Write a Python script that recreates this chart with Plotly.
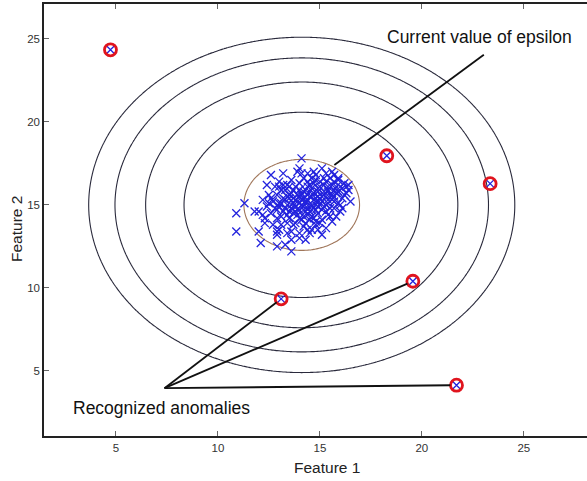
import numpy as np
import plotly.graph_objects as go

# ---------------- data ----------------
cluster_x = [
 14.1,14.0,15.1,13.9,13.2,12.6,14.4,15.7,14.7,15.3,
 13.0,13.6,14.2,14.8,15.3,15.9,16.2,12.8,13.4,14.0,
 14.5,15.0,15.6,16.1,16.4,13.1,13.7,14.3,14.9,15.4,
 15.9,16.3,12.5,12.9,13.5,14.1,14.6,15.2,15.7,16.1,
 12.2,12.7,13.3,13.8,14.4,14.9,15.4,15.9,16.5,11.3,
 12.4,13.0,13.6,14.1,14.6,15.2,15.7,16.0,11.8,12.0,
 12.6,13.2,13.8,14.3,14.9,15.4,10.9,12.9,13.5,14.0,
 14.5,15.1,15.6,12.3,13.1,13.7,14.2,14.8,15.3,12.0,
 10.9,12.9,13.4,14.0,14.5,12.9,13.6,14.0,12.1,12.9,
 13.6,13.3,14.3,
 13.4,14.2,14.8,15.5,13.9,14.7,15.0,13.5,14.4,15.3,
 13.2,14.0,15.8,14.5,13.7,15.1,14.3,13.9,15.6,14.9,
 13.4,14.6,15.4,14.1,13.8,15.2,14.4,15.5,14.0,13.1,
 14.8,15.9,13.6,14.6,15.1,14.2,13.3,15.7,14.9,13.9,
 14.5,15.3,12.8,13.5,14.7,15.0,13.8,14.3,12.6,16.0,
 15.8,12.7,13.0,14.6,15.5,16.2,13.2,14.1,14.8,12.4,
 15.6,12.3,16.4,13.0,14.4,15.2,13.7,14.0,14.7,15.4,
 13.5,14.2,14.9,13.6,15.0,14.4,15.7,13.3,14.1,14.8,
 14.3,14.6,14.0,14.5,13.9,14.8,14.2,15.1,13.7,14.6,
 15.3,14.1,13.8,15.0,14.4,14.9,15.6,13.4,14.7,15.8,
 15.4,16.0,13.1,12.9,15.5,14.2,13.4,14.9,15.9,15.2,
 16.3,14.6,12.5,13.0,16.1,15.7,12.2,13.6,14.4,15.1,
]
cluster_y = [
 17.8,17.2,17.2,17.0,16.9,16.8,16.9,16.8,17.0,16.9,
 16.4,16.5,16.6,16.5,16.4,16.5,16.3,16.1,16.2,16.3,
 16.2,16.1,16.2,16.0,16.2,15.9,15.9,15.9,15.8,15.9,
 15.8,15.7,15.6,15.6,15.6,15.6,15.5,15.6,15.5,15.4,
 15.3,15.2,15.3,15.3,15.3,15.2,15.3,15.1,15.2,15.1,
 14.9,14.9,15.0,15.0,14.9,14.9,14.8,14.6,14.6,14.6,
 14.5,14.6,14.6,14.6,14.5,14.4,14.5,14.2,14.2,14.2,
 14.1,14.1,14.0,13.9,13.8,13.8,13.7,13.8,13.6,13.4,
 13.4,13.4,13.3,13.3,13.3,13.2,12.9,13.0,12.7,12.5,
 12.2,12.6,12.9,
 15.0,15.4,15.0,15.6,14.7,15.7,15.4,14.6,14.4,15.0,
 15.4,15.9,16.1,15.8,15.4,14.7,15.1,14.4,15.3,16.0,
 14.4,14.3,15.8,15.3,16.1,16.2,16.4,16.6,14.7,14.3,
 14.7,15.8,15.7,16.0,15.5,14.9,14.8,15.9,15.5,15.6,
 14.6,14.6,14.8,16.1,14.2,13.9,13.9,13.9,15.4,15.0,
 14.3,13.8,13.5,13.5,14.8,15.6,16.2,16.9,16.8,16.2,
 17.0,14.2,15.9,15.1,15.6,15.8,14.5,15.5,15.3,15.1,
 15.4,15.8,14.9,14.8,16.4,16.1,16.4,15.9,14.1,14.0,
 15.2,15.0,15.1,15.5,15.2,15.4,14.7,15.2,15.1,14.7,
 15.5,15.7,14.9,15.0,14.8,15.8,15.6,15.5,16.3,15.7,
 16.1,16.1,15.1,14.7,14.3,14.3,13.9,13.5,16.6,16.6,
 16.1,16.6,15.1,16.1,14.8,15.2,14.4,13.4,13.5,13.2,
]

anomaly_x = [4.73, 18.28, 23.35, 19.56, 13.1, 21.7]
anomaly_y = [24.34, 17.96, 16.28, 10.4, 9.34, 4.14]

# Gaussian fit (mean and variance per feature)
mu = [14.11, 15.0]
sigma2 = [1.83, 1.71]
contour_exponents = [-14, -11, -8, -5]   # density levels 10^k
epsilon_exponent = -2                     # current epsilon contour

# callouts
epsilon_label = "Current value of epsilon"
epsilon_label_pos = [22.84, 25.1]
epsilon_pointer = [[23.04, 24.04], [15.71, 17.4]]
anomaly_label = "Recognized anomalies"
anomaly_label_pos = [7.25, 2.77]
anomaly_callout_origin = [7.38, 3.96]
anomaly_callout_targets = [3, 4, 5]      # indices into anomaly lists

x_ticks = [5, 10, 15, 20, 25]
y_ticks = [5, 10, 15, 20, 25]
x_range = [1.47, 28.1]
y_range = [1.08, 27.1]

# ---------------- figure ----------------
gx = np.arange(0, 30.001, 0.1)
gy = np.arange(0, 30.001, 0.1)
GX, GY = np.meshgrid(gx, gy)
Z = (-0.5 * ((GX - mu[0]) ** 2 / sigma2[0] + (GY - mu[1]) ** 2 / sigma2[1]) / np.log(10)
     - np.log10(2 * np.pi * np.sqrt(sigma2[0] * sigma2[1])))

fig = go.Figure()
fig.add_trace(go.Contour(
    x=gx, y=gy, z=Z,
    contours=dict(coloring="none", start=min(contour_exponents),
                  end=max(contour_exponents), size=3),
    line=dict(color="#2a2a3c", width=1.1),
    showscale=False, hoverinfo="skip"))
fig.add_trace(go.Contour(
    x=gx, y=gy, z=Z,
    contours=dict(coloring="none", start=epsilon_exponent,
                  end=epsilon_exponent, size=1),
    line=dict(color="#a0765a", width=1.1),
    showscale=False, hoverinfo="skip"))

blue = "#2222dd"
red = "#e0141e"
fig.add_trace(go.Scatter(
    x=cluster_x + anomaly_x, y=cluster_y + anomaly_y, mode="markers",
    marker=dict(symbol="x-thin-open", size=8, color=blue, line=dict(color=blue, width=1.3)),
    hoverinfo="skip"))
fig.add_trace(go.Scatter(
    x=anomaly_x, y=anomaly_y, mode="markers",
    marker=dict(symbol="circle-open", size=12, color=red, line=dict(color=red, width=2.8)),
    hoverinfo="skip"))

line_style = dict(color="#111111", width=1.8)
fig.add_shape(type="line", xref="x", yref="y",
              x0=epsilon_pointer[0][0], y0=epsilon_pointer[0][1],
              x1=epsilon_pointer[1][0], y1=epsilon_pointer[1][1], line=line_style)
ox, oy = anomaly_callout_origin
for i in anomaly_callout_targets:
    tx, ty = anomaly_x[i], anomaly_y[i]
    d = np.hypot(tx - ox, ty - oy)
    ex = tx - (tx - ox) / d * 0.3
    ey = ty - (ty - oy) / d * 0.3
    fig.add_shape(type="line", xref="x", yref="y", x0=ox, y0=oy, x1=ex, y1=ey,
                  line=line_style)

font_main = "Liberation Sans, Arial, sans-serif"
fig.add_annotation(x=epsilon_label_pos[0], y=epsilon_label_pos[1], xref="x", yref="y",
                   text=epsilon_label, showarrow=False,
                   font=dict(family=font_main, size=17.5, color="#111"))
fig.add_annotation(x=anomaly_label_pos[0], y=anomaly_label_pos[1], xref="x", yref="y",
                   text=anomaly_label, showarrow=False,
                   font=dict(family=font_main, size=17.5, color="#111"))
# axis titles
fig.add_annotation(x=(327 - 44) / 543, y=-(468 - 436) / 432, xref="paper", yref="paper",
                   text="Feature 1", showarrow=False, xanchor="center", yanchor="middle",
                   font=dict(family=font_main, size=15.5, color="#222"))
fig.add_annotation(x=-(44 - 17) / 543, y=(436 - 229) / 432, xref="paper", yref="paper",
                   text="Feature 2", showarrow=False, textangle=-90,
                   xanchor="center", yanchor="middle",
                   font=dict(family=font_main, size=15.5, color="#222"))

axis_common = dict(showgrid=False, zeroline=False, showline=True, linecolor="#222",
                   linewidth=1.5, ticks="inside", ticklen=5, tickcolor="#666",
                   tickwidth=1, tickfont=dict(family=font_main, size=11.5, color="#333"))
fig.update_xaxes(range=x_range, tickvals=x_ticks, mirror="ticks", **axis_common)
fig.update_yaxes(range=y_range, tickvals=y_ticks, mirror=False, **axis_common)

fig.update_layout(width=587, height=481, margin=dict(l=44, r=0, t=4, b=45),
                  plot_bgcolor="white", paper_bgcolor="white", showlegend=False)

fig.write_html("out.html")
